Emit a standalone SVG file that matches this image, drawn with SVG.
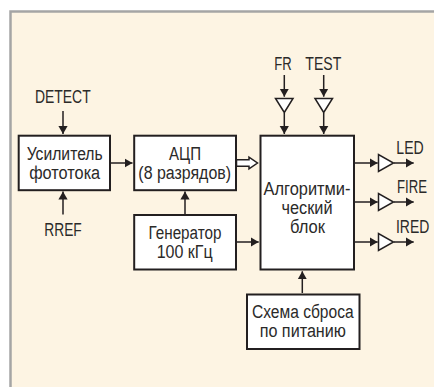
<svg xmlns="http://www.w3.org/2000/svg" width="434" height="387" viewBox="0 0 434 387">
<style>
.t{font-family:"Liberation Sans Narrow","Liberation Sans",Arial,sans-serif;font-size:18px;fill:#2b2a29;text-anchor:middle}
.s{text-anchor:start}
.b{fill:#fff;stroke:#231f20;stroke-width:2}
.c{fill:none;stroke:#231f20;stroke-width:1.5}
.g{fill:#fff;stroke:#231f20;stroke-width:1.5}
</style>
<defs><marker id="a" markerUnits="userSpaceOnUse" markerWidth="9" markerHeight="10" refX="8" refY="5" orient="auto"><path d="M0 .4L8 5L0 9.600Z" fill="#231f20"/></marker></defs>
<rect x="0" y="0" width="434" height="387" fill="#fff"/>
<path d="M434 11.500H10.500V387H434Z" fill="#fdf4e3"/>
<path d="M434 11.500H10.500V387" fill="none" stroke="#a5a5a5" stroke-width="2.500"/>
<g id="connectors">
<path class="c" marker-end="url(#a)" d="M63 111V134"/>
<path class="c" marker-end="url(#a)" d="M63 214.500V191.500"/>
<path class="c" marker-end="url(#a)" d="M110 163H132.500"/>
<path class="c" marker-end="url(#a)" d="M185 214.500V191.500"/>
<path class="c" marker-end="url(#a)" d="M236 242H258.700"/>
<path class="c" marker-end="url(#a)" d="M284.300 75V96.700"/>
<path class="c" marker-end="url(#a)" d="M323.700 75V96.700"/>
<path class="c" marker-end="url(#a)" d="M284.300 113V134"/>
<path class="c" marker-end="url(#a)" d="M323.700 113V134"/>
<path class="c" marker-end="url(#a)" d="M354 163H377.700"/>
<path class="c" marker-end="url(#a)" d="M354 202H377.700"/>
<path class="c" marker-end="url(#a)" d="M354 242H377.700"/>
<path class="c" marker-end="url(#a)" d="M394 163H413.700"/>
<path class="c" marker-end="url(#a)" d="M394 202H413.700"/>
<path class="c" marker-end="url(#a)" d="M394 242H413.700"/>
<path class="c" marker-end="url(#a)" d="M302.300 293V271.300"/>
<path class="g" d="M236.500 159.800H249V157.200L257.500 163L249 168.800V166.200H236.500Z"/>
</g>
<g id="amp"><rect class="b" x="18.700" y="135.700" width="91.300" height="54.500"/><text class="t" x="64.700" y="160" textLength="76" lengthAdjust="spacingAndGlyphs">Усилитель</text><text class="t" x="64.700" y="178.700" textLength="71" lengthAdjust="spacingAndGlyphs">фототока</text></g>
<g id="adc"><rect class="b" x="134.200" y="135.700" width="101.800" height="54.500"/><text class="t" x="185" y="160" textLength="32" lengthAdjust="spacingAndGlyphs">АЦП</text><text class="t" x="184.700" y="178.700" textLength="92.700" lengthAdjust="spacingAndGlyphs">(8 разрядов)</text></g>
<g id="gen"><rect class="b" x="134.200" y="215" width="101.800" height="54.500"/><text class="t" x="185" y="238.700" textLength="73" lengthAdjust="spacingAndGlyphs">Генератор</text><text class="t" x="184.700" y="257.700" textLength="56" lengthAdjust="spacingAndGlyphs">100 кГц</text></g>
<g id="algo"><rect class="b" x="260.500" y="135.700" width="93.500" height="133.800"/><text class="t" x="307" y="195" textLength="87" lengthAdjust="spacingAndGlyphs">Алгоритми-</text><text class="t" x="307" y="214" textLength="51" lengthAdjust="spacingAndGlyphs">ческий</text><text class="t" x="307.500" y="232.500" textLength="35" lengthAdjust="spacingAndGlyphs">блок</text></g>
<g id="reset"><rect class="b" x="247" y="294.500" width="112.500" height="54.500"/><text class="t" x="302.800" y="318" textLength="101.700" lengthAdjust="spacingAndGlyphs">Схема сброса</text><text class="t" x="302.800" y="337" textLength="86.300" lengthAdjust="spacingAndGlyphs">по питанию</text></g>
<g id="buf-fr"><path class="g" d="M275.500 98.500H293L284.300 112.500Z"/></g>
<g id="buf-test"><path class="g" d="M315 98.500H332.500L323.700 112.500Z"/></g>
<g id="buf-led"><path class="g" d="M378.500 154.500V171.500L393.500 163Z"/></g>
<g id="buf-fire"><path class="g" d="M378.500 193.500V210.500L393.500 202Z"/></g>
<g id="buf-ired"><path class="g" d="M378.500 233.500V250.500L393.500 242Z"/></g>
<g id="labels">
<text class="t" x="62.800" y="102.500" textLength="55.700" lengthAdjust="spacingAndGlyphs">DETECT</text>
<text class="t" x="63" y="236" textLength="37.400" lengthAdjust="spacingAndGlyphs">RREF</text>
<text class="t" x="283" y="70" textLength="17.400" lengthAdjust="spacingAndGlyphs">FR</text>
<text class="t" x="323.300" y="70" textLength="36" lengthAdjust="spacingAndGlyphs">TEST</text>
<text class="t s" x="396.300" y="154" textLength="27.400" lengthAdjust="spacingAndGlyphs">LED</text>
<text class="t s" x="397" y="192.700" textLength="30" lengthAdjust="spacingAndGlyphs">FIRE</text>
<text class="t s" x="396" y="232.700" textLength="33.300" lengthAdjust="spacingAndGlyphs">IRED</text>
</g>
</svg>
